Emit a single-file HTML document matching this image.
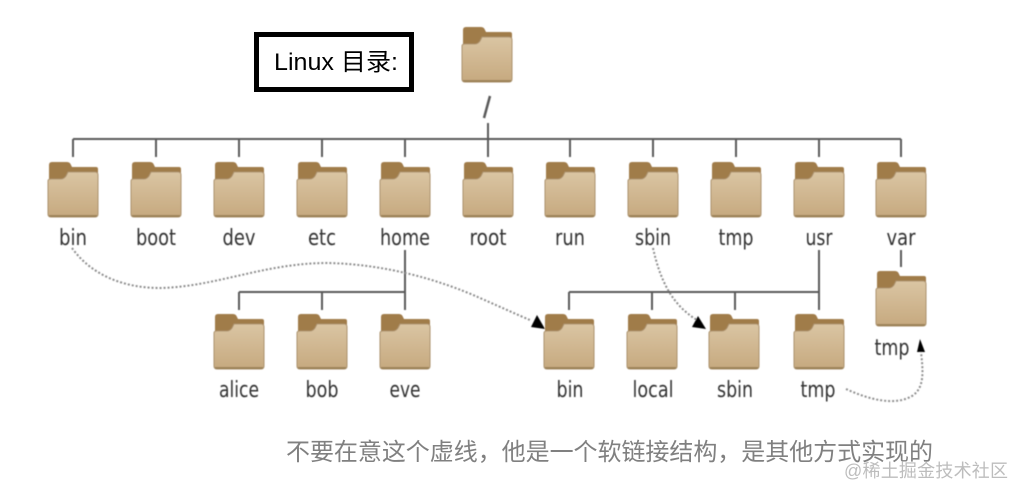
<!DOCTYPE html>
<html><head><meta charset="utf-8">
<style>
html,body{margin:0;padding:0;background:#fff;width:1021px;height:496px;overflow:hidden}
svg{display:block}
.l{font-family:"DejaVu Sans","Liberation Sans",sans-serif;font-size:22px;fill:#333;text-anchor:middle}
</style></head>
<body>
<svg width="1021" height="496" viewBox="0 0 1021 496" xmlns="http://www.w3.org/2000/svg">
<defs>
<linearGradient id="g" x1="0" y1="0" x2="0" y2="1"><stop offset="0" stop-color="#dac5a3"/><stop offset="1" stop-color="#c6a97f"/></linearGradient>
<filter id="b" x="-5%" y="-5%" width="110%" height="110%"><feGaussianBlur stdDeviation="0.6"/></filter>
<g id="f">
<path d="M1 3 Q1 0 4 0 H19 Q22 0 23 3 L24 5 H48 Q50 5 50 7 V20 H1 Z" fill="#a07c4a"/>
<path d="M0 19 Q0 17 3 17 H13 Q16 17 18 14 L20 10 H47 Q50 10 50 13 V52 Q50 55 47 55 H3 Q0 55 0 52 Z" fill="url(#g)" stroke="#ab916c" stroke-width="1"/>
<rect x="1" y="53" width="48" height="2" fill="#9c8258"/>
</g>
</defs>
<rect x="256.500" y="34.500" width="155" height="55" fill="#fff" stroke="#000" stroke-width="5"/>
<text x="274" y="70" font-family="'Liberation Sans','Noto Sans CJK SC',sans-serif" font-size="24" fill="#000" textLength="124" lengthAdjust="spacingAndGlyphs">Linux 目录:</text>
<g filter="url(#b)">
<g stroke="#5a5a5a" stroke-width="2" fill="none">
<path d="M73 139 H901"/>
<path d="M73 139 V157M156 139 V157M239 139 V157M322 139 V157M405 139 V157M488 123 V157M570 139 V157M653 139 V157M736 139 V157M819 139 V157M901 139 V157"/>
<path d="M490 96 L484 118" stroke-width="2.500"/>
<path d="M405 250 V310M239 292 H405M239 292 V310M322 292 V310"/>
<path d="M819 250 V310M569 292 H819M569 292 V310M652 292 V310M735 292 V310"/>
<path d="M901 250 V267"/>
</g>
<g fill="none" stroke="#8c8c8c" stroke-width="2" stroke-dasharray="2 2">
<path d="M72 248 C92 276 125 288 160 288 C215 287 265 263 327 263 C385 264 440 280 480 298 C505 309 518 315 530 320"/>
<path d="M653 248 C660 280 672 305 697 320"/>
<path d="M846 389 C870 400 895 406 912 396 C925 388 923 370 921 352"/>
</g>
<path d="M545 329 L531 327 L537 315 Z" fill="#000"/>
<path d="M706 329 L692 327 L698 316 Z" fill="#000"/>
<path d="M917 352 L920 339 L925 352 Z" fill="#000"/>
<use href="#f" x="48" y="162"/><use href="#f" x="131" y="162"/><use href="#f" x="214" y="162"/><use href="#f" x="297" y="162"/><use href="#f" x="380" y="162"/><use href="#f" x="463" y="162"/><use href="#f" x="545" y="162"/><use href="#f" x="628" y="162"/><use href="#f" x="711" y="162"/><use href="#f" x="794" y="162"/><use href="#f" x="876" y="162"/>
<use href="#f" x="462" y="27"/>
<use href="#f" x="214" y="314"/><use href="#f" x="297" y="314"/><use href="#f" x="380" y="314"/>
<use href="#f" x="544" y="314"/><use href="#f" x="627" y="314"/><use href="#f" x="709" y="314"/><use href="#f" x="794" y="314"/>
<use href="#f" x="876" y="271"/>
<text class="l" x="73" y="245" textLength="28" lengthAdjust="spacingAndGlyphs">bin</text>
<text class="l" x="156" y="245" textLength="40" lengthAdjust="spacingAndGlyphs">boot</text>
<text class="l" x="239" y="245" textLength="33" lengthAdjust="spacingAndGlyphs">dev</text>
<text class="l" x="322" y="245" textLength="28" lengthAdjust="spacingAndGlyphs">etc</text>
<text class="l" x="405" y="245" textLength="50" lengthAdjust="spacingAndGlyphs">home</text>
<text class="l" x="488" y="245" textLength="37" lengthAdjust="spacingAndGlyphs">root</text>
<text class="l" x="570" y="245" textLength="30" lengthAdjust="spacingAndGlyphs">run</text>
<text class="l" x="653" y="245" textLength="36" lengthAdjust="spacingAndGlyphs">sbin</text>
<text class="l" x="736" y="245" textLength="35" lengthAdjust="spacingAndGlyphs">tmp</text>
<text class="l" x="819" y="245" textLength="27" lengthAdjust="spacingAndGlyphs">usr</text>
<text class="l" x="901" y="245" textLength="29" lengthAdjust="spacingAndGlyphs">var</text>
<text class="l" x="239" y="397" textLength="40" lengthAdjust="spacingAndGlyphs">alice</text>
<text class="l" x="322" y="397" textLength="33" lengthAdjust="spacingAndGlyphs">bob</text>
<text class="l" x="405" y="397" textLength="31" lengthAdjust="spacingAndGlyphs">eve</text>
<text class="l" x="570" y="397" textLength="27" lengthAdjust="spacingAndGlyphs">bin</text>
<text class="l" x="653" y="397" textLength="41" lengthAdjust="spacingAndGlyphs">local</text>
<text class="l" x="735" y="397" textLength="36" lengthAdjust="spacingAndGlyphs">sbin</text>
<text class="l" x="818" y="397" textLength="35" lengthAdjust="spacingAndGlyphs">tmp</text>
<text class="l" x="892" y="355" textLength="35" lengthAdjust="spacingAndGlyphs">tmp</text>
</g>
<text x="286" y="460" font-family="'Liberation Sans','Noto Sans CJK SC',sans-serif" font-size="24" fill="#808080" textLength="647">不要在意这个虚线，他是一个软链接结构，是其他方式实现的</text>
<text x="844" y="477" font-family="'Liberation Sans','Noto Sans CJK SC',sans-serif" font-size="18" fill="#bdbdbd" textLength="164">@稀土掘金技术社区</text>
</svg>
</body></html>
